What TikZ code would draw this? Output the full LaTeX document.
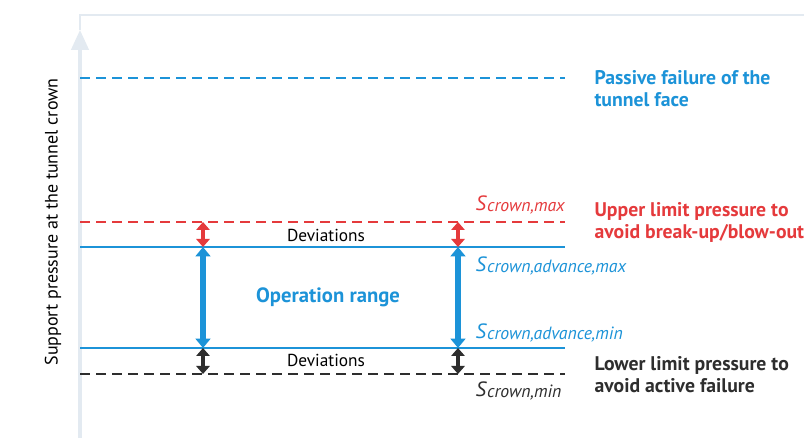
\documentclass[tikz,border=0pt]{standalone}
\usepackage{fontspec}
\setmainfont{PT Sans}
\usetikzlibrary{arrows.meta,positioning}

\definecolor{opblue}{HTML}{1C93D8}
\definecolor{limred}{HTML}{E53A3C}
\definecolor{lowgray}{HTML}{2E2E2E}
\definecolor{axisgray}{HTML}{E3EAF1}

% value labels like S_crown,max
\newcommand\sval[1]{\textit{S}\raisebox{-0.8pt}{\itshape\fontsize{13.3}{14}\selectfont #1}}

\begin{document}
\begin{tikzpicture}[x=0.75pt,y=-0.75pt
    , every node/.style={inner sep=1pt}
    , level/.style={line width=1.5pt}
    , limit/.style={line width=1.5pt,dash pattern=on 7.5pt off 4.5pt}
    , devarrow/.style={line width=3.2pt,{Triangle[width=10pt,length=6pt]}-{Triangle[width=10pt,length=6pt]}}
    , oparrow/.style={line width=4pt,{Triangle[width=11pt,length=7pt]}-{Triangle[width=11pt,length=7pt]}}
    , note/.style={font=\bfseries\fontsize{14.8}{16.5}\selectfont,align=left,anchor=west}
    , subval/.style={font=\fontsize{15.5}{16}\selectfont,anchor=west}
    , devtext/.style={font=\fontsize{13}{15}\selectfont}
]
    \useasboundingbox[fill=white] (0,0) rectangle (804,438);

    % axis
    \coordinate (axisbot) at (80,438);
    \coordinate (axistip) at (80,30);
    \coordinate (framecorner) at (80,15);
    \coordinate (frameend) at (804,15);
    \draw[axisgray,line width=1.5pt] (axistip) -- (framecorner) -- (frameend);
    \draw[axisgray,line width=2.5pt,-{Triangle[width=13pt,length=15pt]}]
        (axisbot) -- (axistip);
    \node[rotate=90,font=\fontsize{13.5}{15}\selectfont] (ylabel) at (53,222)
        {Support pressure at the tunnel crown};

    % levels
    \foreach \lv/\y in {passive/78,upper/222,advmax/247,advmin/348,lower/374}
    {
        \coordinate (\lv W) at (80,\y);
        \coordinate (\lv E) at (565,\y);
    }
    \draw[limit,opblue] (passiveW) -- (passiveE);
    \draw[limit,limred] (upperW) -- (upperE);
    \draw[level,opblue] (advmaxW) -- (advmaxE);
    \draw[level,opblue] (advminW) -- (advminE);
    \draw[limit,lowgray] (lowerW) -- (lowerE);

    % deviation and operation arrows
    \foreach \x[count=\i] in {203,458}
    {
        \coordinate (upper\i) at (\x,222);
        \coordinate (advmax\i) at (\x,247);
        \coordinate (advmin\i) at (\x,348);
        \coordinate (lower\i) at (\x,374);
        \draw[devarrow,limred] (upper\i) -- (advmax\i);
        \draw[oparrow,opblue] (advmax\i) -- (advmin\i);
        \draw[devarrow,lowgray] (advmin\i) -- (lower\i);
    }

    \node[devtext] (devup) at (326,235) {Deviations};
    \node[devtext] (devlow) at (326,360) {Deviations};
    \node[font=\bfseries\fontsize{15.5}{17}\selectfont,text=opblue] (oprange) at (328,297)
        {Operation range};

    % values
    \node[subval,text=limred] (smax) at (474,205) {\sval{crown,max}};
    \node[subval,text=opblue] (sadvmax) at (474,266) {\sval{crown,advance,max}};
    \node[subval,text=opblue] (sadvmin) at (474,333) {\sval{crown,advance,min}};
    \node[subval,text=lowgray] (smin) at (474,391) {\sval{crown,min}};

    % notes
    \node[note,text=opblue] (passivenote) at (593,89)
        {Passive failure of the\\tunnel face};
    \node[note,text=limred] (uppernote) at (593,222)
        {Upper limit pressure to\\avoid break-up/blow-out};
    \node[note,text=lowgray] (lowernote) at (593,375)
        {Lower limit pressure to\\avoid active failure};
\end{tikzpicture}
\end{document}
